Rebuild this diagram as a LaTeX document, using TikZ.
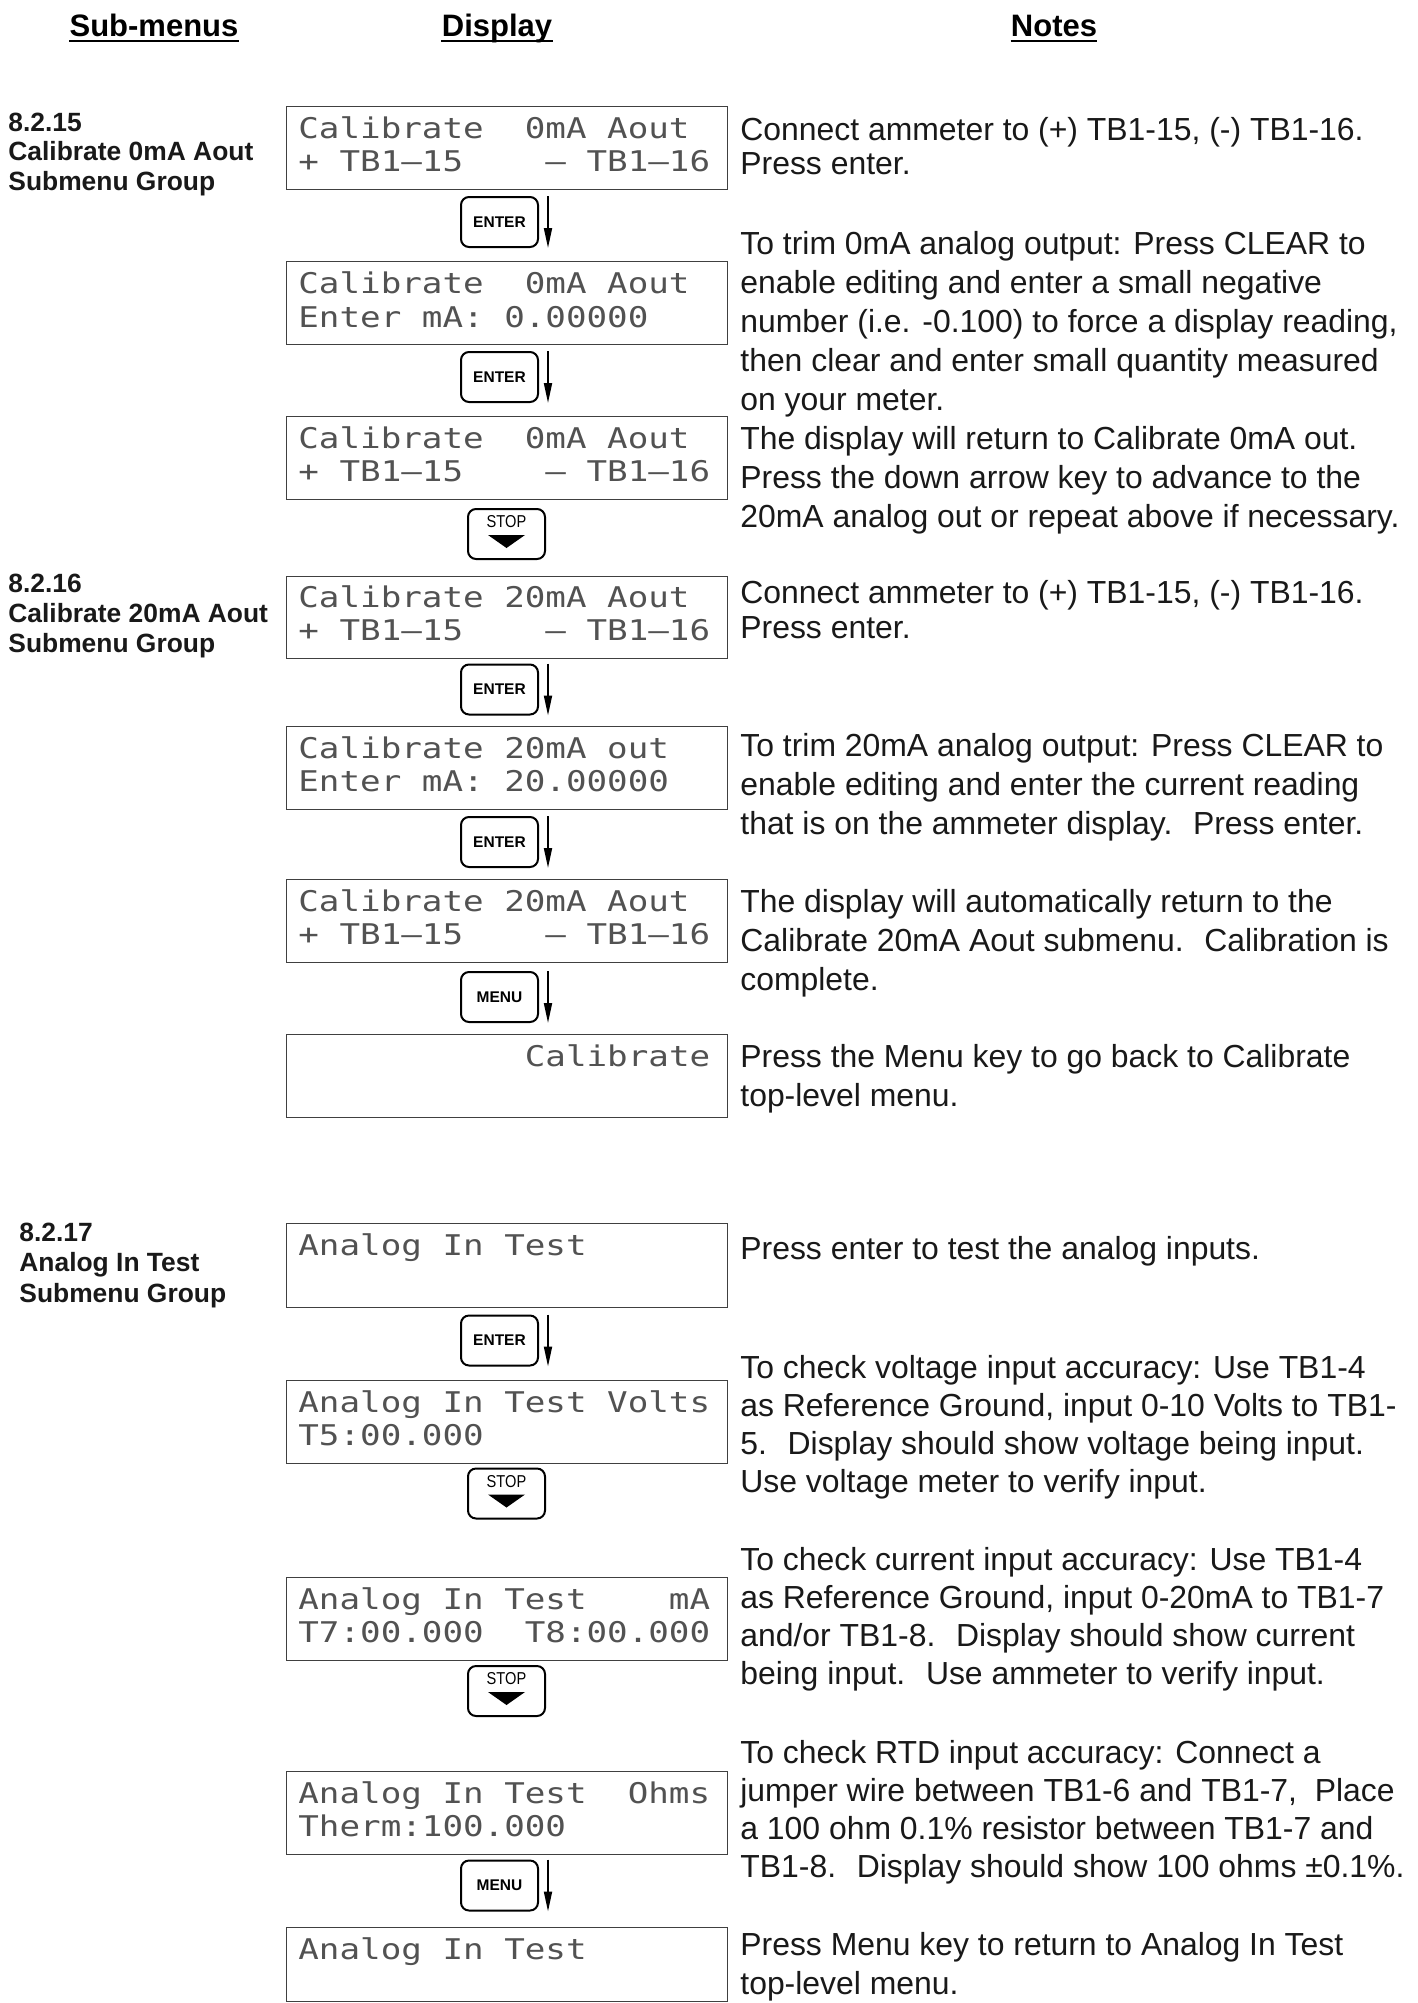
\documentclass[tikz,border=0pt]{standalone}
\usepackage{fontspec}
\setmainfont{Liberation Sans}
\newfontfamily\lcdfont[FakeStretch=1.2]{DejaVu Sans Mono}
\newfontfamily\narrowfont[FakeStretch=0.85]{Liberation Sans}
\usetikzlibrary{arrows.meta}
\begin{document}
\begin{tikzpicture}[x=0.5pt,y=-0.5pt,
  hdr/.style={font=\fontsize{15.5pt}{18pt}\selectfont\bfseries, inner sep=0, anchor=base},
  hdrline/.style={line width=1pt},
  grp/.style={font=\fontsize{13.2pt}{15pt}\selectfont\bfseries, inner sep=0, anchor=base west, text=black!90},
  note/.style={font=\fontsize{15.95pt}{19pt}\selectfont, inner sep=0, anchor=base west, text=black!90},
  lcdbox/.style={draw=black!75, line width=0.7pt, anchor=north west, minimum width=220.5pt, inner sep=0},
  lcd/.style={font=\lcdfont\fontsize{14.25pt}{16pt}\selectfont, inner sep=0, anchor=base west, text=black!68},
  keybox/.style={draw=black, line width=1pt, rounded corners=4pt, minimum width=38.5pt, minimum height=25pt, inner sep=0, font=\fontsize{7.75pt}{9pt}\selectfont\bfseries},
  keyarrow/.style={line width=0.9pt, -{Triangle[length=10pt,width=4pt]}},
  stoplabel/.style={font=\narrowfont\fontsize{8.6pt}{10pt}\selectfont, inner sep=0, anchor=base}
]
\useasboundingbox (0,0) rectangle (1418,2003);
\fill[white] (0,0) rectangle (1418,2003);

% headers
\node[hdr] (h1) at (154,36) {Sub-menus};
\node[hdr] (h2) at (497,36) {Display};
\node[hdr] (h3) at (1054,36) {Notes};
\foreach \h in {h1,h2,h3}{
  \draw[hdrline] ([yshift=-2.3pt]\h.base west) -- ([yshift=-2.3pt]\h.base east);
}

% group labels
\node[grp] (g1a) at (8,131) {8.2.15};
\node[grp] (g1b) at (8,160.5) {Calibrate 0mA Aout};
\node[grp] (g1c) at (8,190) {Submenu Group};
\node[grp] (g2a) at (8,592) {8.2.16};
\node[grp] (g2b) at (8,622) {Calibrate 20mA Aout};
\node[grp] (g2c) at (8,652) {Submenu Group};
\node[grp] (g3a) at (19,1241) {8.2.17};
\node[grp] (g3b) at (19,1271.5) {Analog In Test};
\node[grp] (g3c) at (19,1302) {Submenu Group};

% display boxes
\node[lcdbox, minimum height=41.5pt] (b1) at (286,106) {};
\node[lcdbox, minimum height=41.5pt] (b2) at (286,261) {};
\node[lcdbox, minimum height=41.5pt] (b3) at (286,416) {};
\node[lcdbox, minimum height=41pt] (b4) at (286,576) {};
\node[lcdbox, minimum height=41.5pt] (b5) at (286,726) {};
\node[lcdbox, minimum height=41.5pt] (b6) at (286,879) {};
\node[lcdbox, minimum height=41.5pt] (b7) at (286,1034) {};
\node[lcdbox, minimum height=42pt] (a1) at (286,1223) {};
\node[lcdbox, minimum height=41.5pt] (a2) at (286,1380) {};
\node[lcdbox, minimum height=41.5pt] (a3) at (286,1577) {};
\node[lcdbox, minimum height=41.5pt] (a4) at (286,1771) {};
\node[lcdbox, minimum height=37pt] (a5) at (286,1927) {};

% display texts
\node[lcd] (b1l1) at (298,138.5) {Calibrate~~0mA Aout};
\node[lcd] (b1l2) at (298,171.5) {+ TB1–15~~~~– TB1–16};
\node[lcd] (b2l1) at (298,293) {Calibrate~~0mA Aout};
\node[lcd] (b2l2) at (298,327) {Enter mA: 0.00000};
\node[lcd] (b3l1) at (298,448) {Calibrate~~0mA Aout};
\node[lcd] (b3l2) at (298,481.5) {+ TB1–15~~~~– TB1–16};
\node[lcd] (b4l1) at (298,607) {Calibrate 20mA Aout};
\node[lcd] (b4l2) at (298,640.5) {+ TB1–15~~~~– TB1–16};
\node[lcd] (b5l1) at (298,758) {Calibrate 20mA out};
\node[lcd] (b5l2) at (298,791.5) {Enter mA: 20.00000};
\node[lcd] (b6l1) at (298,911) {Calibrate 20mA Aout};
\node[lcd] (b6l2) at (298,944.5) {+ TB1–15~~~~– TB1–16};
\node[lcd] (b7l1) at (298,1066) {~~~~~~~~~~~Calibrate};
\node[lcd] (a1l1) at (298,1255) {Analog In Test};
\node[lcd] (a2l1) at (298,1412) {Analog In Test Volts};
\node[lcd] (a2l2) at (298,1445.5) {T5:00.000};
\node[lcd] (a3l1) at (298,1609) {Analog In Test~~~~mA};
\node[lcd] (a3l2) at (298,1642.5) {T7:00.000~~T8:00.000};
\node[lcd] (a4l1) at (298,1803) {Analog In Test~~Ohms};
\node[lcd] (a4l2) at (298,1836.5) {Therm:100.000};
\node[lcd] (a5l1) at (298,1959) {Analog In Test};

% keys with arrows
\node[keybox] (k1) at (499.5,222) {ENTER};
\node[keybox] (k2) at (499.5,377) {ENTER};
\node[keybox] (k4) at (499.5,689.5) {ENTER};
\node[keybox] (k5) at (499.5,842) {ENTER};
\node[keybox] (k6) at (499.5,997) {MENU};
\node[keybox] (l1) at (499.5,1340.5) {ENTER};
\node[keybox] (l4) at (499.5,1885.5) {MENU};
\foreach \k in {k1,k2,k4,k5,k6,l1,l4}{
  \draw[keyarrow] ([xshift=4.5pt]\k.north east) -- ([xshift=4.5pt]\k.south east);
}

% stop keys
\node[keybox] (k3) at (506.5,534) {};
\node[keybox] (l2) at (506.5,1493.5) {};
\node[keybox] (l3) at (506.5,1691) {};
\foreach \k in {k3,l2,l3}{
  \node[stoplabel] (\k t) at ([yshift=-9.8pt]\k.north) {STOP};
  \fill ([xshift=-9.25pt,yshift=-0.5pt]\k.center) -- ([xshift=9.25pt,yshift=-0.5pt]\k.center) -- ([yshift=-7pt]\k.center) -- cycle;
}

% notes
\node[note] (t1) at (740,140) {Connect ammeter to (+) TB1-15, (-) TB1-16.};
\node[note] (t2) at (740,174) {Press enter.};
\node[note] (t3) at (740,254) {To trim 0mA analog output: Press CLEAR to};
\node[note] (t4) at (740,293) {enable editing and enter a small negative};
\node[note] (t5) at (740,332) {number (i.e. -0.100) to force a display reading,};
\node[note] (t6) at (740,371) {then clear and enter small quantity measured};
\node[note] (t7) at (740,410) {on your meter.};
\node[note] (t8) at (740,449) {The display will return to Calibrate 0mA out.};
\node[note] (t9) at (740,488) {Press the down arrow key to advance to the};
\node[note] (t10) at (740,527) {20mA analog out or repeat above if necessary.};
\node[note] (t11) at (740,603) {Connect ammeter to (+) TB1-15, (-) TB1-16.};
\node[note] (t12) at (740,638) {Press enter.};
\node[note] (t13) at (740,756) {To trim 20mA analog output: Press CLEAR to};
\node[note] (t14) at (740,795) {enable editing and enter the current reading};
\node[note] (t15) at (740,834) {that is on the ammeter display.~ Press enter.};
\node[note] (t16) at (740,912) {The display will automatically return to the};
\node[note] (t17) at (740,951) {Calibrate 20mA Aout submenu.~ Calibration is};
\node[note] (t18) at (740,990) {complete.};
\node[note] (t19) at (740,1067) {Press the Menu key to go back to Calibrate};
\node[note] (t20) at (740,1106) {top-level menu.};
\node[note] (t21) at (740,1259) {Press enter to test the analog inputs.};
\node[note] (t22) at (740,1378) {To check voltage input accuracy: Use TB1-4};
\node[note] (t23) at (740,1416) {as Reference Ground, input 0-10 Volts to TB1-};
\node[note] (t24) at (740,1454) {5.~ Display should show voltage being input.};
\node[note] (t25) at (740,1492) {Use voltage meter to verify input.};
\node[note] (t26) at (740,1570) {To check current input accuracy: Use TB1-4};
\node[note] (t27) at (740,1608) {as Reference Ground, input 0-20mA to TB1-7};
\node[note] (t28) at (740,1646) {and/or TB1-8.~ Display should show current};
\node[note] (t29) at (740,1684) {being input.~ Use ammeter to verify input.};
\node[note] (t30) at (740,1763) {To check RTD input accuracy: Connect a};
\node[note] (t31) at (740,1801) {jumper wire between TB1-6 and TB1-7,~ Place};
\node[note] (t32) at (740,1839) {a 100 ohm 0.1\% resistor between TB1-7 and};
\node[note] (t33) at (740,1877) {TB1-8.~ Display should show 100 ohms ±0.1\%.};
\node[note] (t34) at (740,1955) {Press Menu key to return to Analog In Test};
\node[note] (t35) at (740,1994) {top-level menu.};
\end{tikzpicture}
\end{document}
